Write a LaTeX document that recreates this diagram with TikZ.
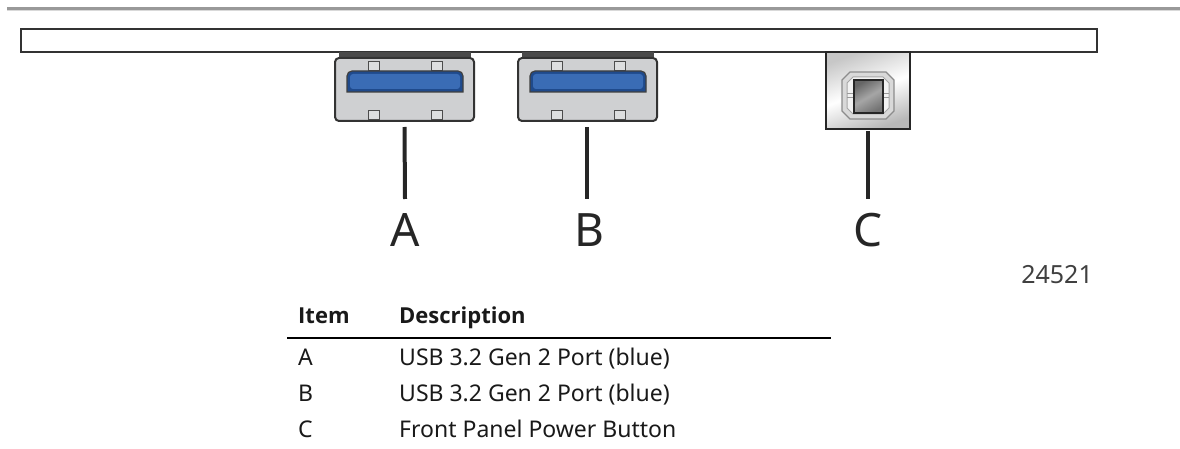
\documentclass[tikz,border=0pt]{standalone}
\usepackage{fontspec}
\setmainfont{Noto Sans}
\newfontfamily\headfont{Open Sans}
\usepackage{xcolor}
\usetikzlibrary{calc,positioning}
\definecolor{portgray}{HTML}{CFD0D2}
\definecolor{portblue}{HTML}{3A6CB5}
\definecolor{portdark}{HTML}{1F4A8C}
\definecolor{stripgray}{HTML}{4A4A4A}
\tikzstyle{outline}=[draw=black!80, line width=2pt]
\tikzstyle{pin}=[draw=black!70, line width=1.2pt, fill=portgray!70, minimum width=11pt, minimum height=9pt, inner sep=0pt]
\tikzstyle{leader}=[draw=black!85, line width=4pt]
\tikzstyle{callout}=[font=\fontsize{46}{46}\selectfont, text=black!85, inner sep=0pt]
\tikzstyle{cell}=[font=\fontsize{23}{27}\selectfont, text=black!90, inner sep=0pt, anchor=base west]
\tikzstyle{headcell}=[cell, font=\fontsize{22}{27}\selectfont\headfont\bfseries]
\begin{document}
\begin{tikzpicture}[x=1pt,y=-1pt]
\useasboundingbox (0,0) rectangle (1180,449);
% top rule and panel
\fill[black!40] (7,7) rectangle (1180,10);
\fill[black!15] (7,10) rectangle (1180,11);
\draw[outline] (20.5,29.5) rectangle (1097,52.5);
% usb ports
\foreach \p/\x in {A/335,B/518} {
	\fill[stripgray] (\x+4,52) rectangle (\x+136,58);
	\draw[outline, fill=portgray, rounded corners=4pt] (\x,58) rectangle (\x+139,121);
	\coordinate (port\p) at (\x+69.5,121);
	\foreach \i/\a/\b in {1/39/66,2/102/66,3/39/115,4/102/115} {
		\node[pin] (pin\p\i) at (\x+\a,\b) {};
	}
	\draw[draw=black!75, line width=1.2pt, fill=portdark] (\x+12,92) -- (\x+12,76) arc[start angle=180, end angle=90, radius=5pt] -- (\x+123,71) arc[start angle=90, end angle=0, radius=5pt] -- (\x+128,92) -- cycle;
	\fill[portblue, rounded corners=3pt] (\x+15,89) rectangle (\x+125,74);
}
% power button
\draw[draw=black!85, line width=2pt, left color=black!22, right color=black!28, middle color=white, shading angle=20] (826,52) rectangle (910,129);
\coordinate (portC) at (868,129);
\draw[draw=black!45, line width=1.2pt, fill=black!15] (850,72) -- (886,72) -- (894,80) -- (894,111) -- (886,119) -- (850,119) -- (842,111) -- (842,80) -- cycle;
\draw[draw=black!35, line width=1pt, fill=black!5] (853,77) -- (883,77) -- (889,83) -- (889,108) -- (883,114) -- (853,114) -- (847,108) -- (847,83) -- cycle;
\draw[draw=black!40, line width=1pt] (847,94) -- (889,94) (847,98) -- (889,98);
\draw[draw=black!85, line width=1.2pt, left color=black!60, right color=black!55, middle color=black!35, shading angle=30] (854,80) rectangle (883,113);
% callouts
\node[callout] (labelA) at (405,230) {A};
\node[callout] (labelB) at (589,230) {B};
\node[callout] (labelC) at (868,230) {C};
\draw[leader] ($(portA)+(0,6)$) -- (labelA.center |- 0,199);
\draw[leader] ($(portB)+(-0.5,6)$) -- (587,199);
\draw[leader] ($(portC)+(0,2)$) -- (labelC.center |- 0,199);
\node[font=\fontsize{25}{25}\selectfont, text=black!75, inner sep=0pt, anchor=base east] (partno) at (1093,283) {24521};
% table
\node[headcell] (headitem) at (298,323) {Item};
\node[headcell] (headdesc) at (399,323) {Description};
\draw[line width=2.4pt] (287,338) -- (831,338);
\foreach \n/\y/\t/\d in {A/365/A/USB 3.2 Gen 2 Port (blue),B/401/B/USB 3.2 Gen 2 Port (blue),C/437/C/Front Panel Power Button} {
	\node[cell] (item\n) at (298,\y) {\t};
	\node[cell] (desc\n) at (399,\y) {\d};
}
\end{tikzpicture}
\end{document}
